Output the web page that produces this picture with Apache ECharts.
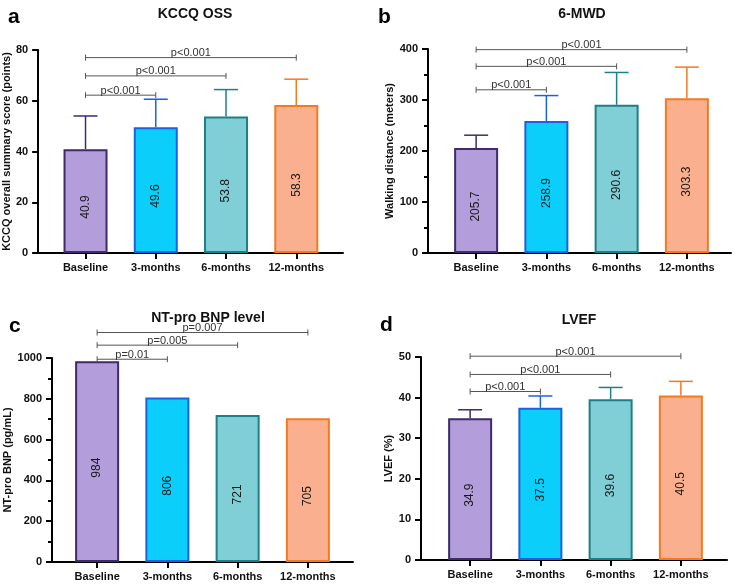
<!DOCTYPE html>
<html>
<head>
<meta charset="utf-8">
<script src="https://cdn.jsdelivr.net/npm/echarts@6/dist/echarts.min.js"></script>
<style>
  body { margin: 0; background: #fff; }
  #chart { width: 738px; height: 588px; }
</style>
</head>
<body>
<div id="chart"></div>
<script>
// data
const categories = ['Baseline', '3-months', '6-months', '12-months']

const kccqMean = [40.9, 49.6, 53.8, 58.3]
const kccqUpper = [54.0, 60.6, 64.4, 68.5]
const kccqBracketY = [62.2, 69.8, 77.0]
const kccqP = ['p<0.001', 'p<0.001', 'p<0.001']

const mwdMean = [205.7, 258.9, 290.6, 303.3]
const mwdUpper = [231, 308.7, 354, 364.5]
const mwdBracketY = [320, 366, 398.7]
const mwdP = ['p<0.001', 'p<0.001', 'p<0.001']

const bnpMean = [984, 806, 721, 705]
const bnpBracketY = [994, 1063, 1125]
const bnpP = ['p=0.01', 'p=0.005', 'p=0.007']

const lvefMean = [34.9, 37.5, 39.6, 40.5]
const lvefUpper = [37.0, 40.4, 42.5, 44.0]
const lvefBracketY = [41.5, 45.7, 50.2]
const lvefP = ['p<0.001', 'p<0.001', 'p<0.001']

const fills = ['#b39ddb', '#0bcffa', '#80cfd6', '#fab08e']
const borders = ['#3d2b6b', '#1c62e0', '#1b8088', '#f47a20']

const FONT = '"Liberation Sans", Arial, sans-serif'

const panels = [
  { letter: 'a', title: 'KCCQ OSS', yName: 'KCCQ overall summary score (points)', max: 80, interval: 20, minor: false,
    mean: kccqMean, upper: kccqUpper, bracketY: kccqBracketY, pText: kccqP,
    frame: { left: 37, top: 50, width: 306, height: 203 }, plotLeft: 50.4, nameGap: 25,
    titlePos: [190, 2], letterPos: [3, 2] },
  { letter: 'b', title: '6-MWD', yName: 'Walking distance (meters)', max: 400, interval: 100, minor: true,
    mean: mwdMean, upper: mwdUpper, bracketY: mwdBracketY, pText: mwdP,
    frame: { left: 428, top: 49, width: 303, height: 204 }, plotLeft: 441, nameGap: 30,
    titlePos: [577, 2], letterPos: [373, 2] },
  { letter: 'c', title: 'NT-pro BNP level', yName: 'NT-pro BNP (pg/mL)', max: 1000, interval: 200, minor: true,
    mean: bnpMean, upper: null, bracketY: bnpBracketY, pText: bnpP,
    frame: { left: 52, top: 358, width: 301, height: 204 }, plotLeft: 62, nameGap: 38,
    titlePos: [203, 306], letterPos: [4, 311] },
  { letter: 'd', title: 'LVEF', yName: 'LVEF (%)', max: 50, interval: 10, minor: false,
    mean: lvefMean, upper: lvefUpper, bracketY: lvefBracketY, pText: lvefP,
    frame: { left: 421, top: 357, width: 306, height: 203 }, plotLeft: 435, nameGap: 24,
    titlePos: [574, 308], letterPos: [375, 310] }
]

const option = { animation: false, title: [], grid: [], xAxis: [], yAxis: [], series: [] }

panels.forEach((p, k) => {
  const fi = k * 2      // frame grid (axis lines, y ticks)
  const pi = k * 2 + 1  // plot grid (bars)

  option.title.push({
    text: p.title, left: p.titlePos[0], top: p.titlePos[1], textAlign: 'center',
    textStyle: { fontSize: 14, fontWeight: 'bold', color: '#111', fontFamily: FONT }
  })
  option.title.push({
    text: p.letter, left: p.letterPos[0], top: p.letterPos[1],
    textStyle: { fontSize: 21, fontWeight: 'bold', color: '#000', fontFamily: FONT }
  })

  option.grid.push(Object.assign({}, p.frame))
  option.grid.push({ left: p.plotLeft, top: p.frame.top, width: 281, height: p.frame.height })

  // frame axes
  option.xAxis.push({
    gridIndex: fi, type: 'value', min: 0, max: 1,
    axisLine: { show: true, lineStyle: { color: '#000', width: 2 } },
    axisTick: { show: false }, axisLabel: { show: false }, splitLine: { show: false }
  })
  option.yAxis.push({
    gridIndex: fi, type: 'value', min: 0, max: p.max, interval: p.interval,
    name: p.yName, nameLocation: 'middle', nameGap: p.nameGap,
    nameTextStyle: { fontSize: 11, fontWeight: 'bold', color: '#111', fontFamily: FONT },
    axisLine: { show: true, lineStyle: { color: '#000', width: 2 } },
    axisTick: { show: true, length: 6, lineStyle: { color: '#000', width: 2 } },
    minorTick: { show: p.minor, splitNumber: 2, length: 4, lineStyle: { color: '#000', width: 2 } },
    axisLabel: { margin: 10, fontSize: 11, fontWeight: 'bold', color: '#111', fontFamily: FONT,
      formatter: v => String(v) },
    splitLine: { show: false }
  })

  // plot axes
  option.xAxis.push({
    gridIndex: pi, type: 'category', data: categories,
    axisLine: { show: false },
    axisTick: { show: true, alignWithLabel: true, length: 6, lineStyle: { color: '#000', width: 2 } },
    axisLabel: { interval: 0, margin: 9, fontSize: 11, fontWeight: 'bold', color: '#111', fontFamily: FONT }
  })
  option.yAxis.push({ gridIndex: pi, type: 'value', min: 0, max: p.max, show: false })

  // error bars
  if (p.upper) {
    option.series.push({
      type: 'custom', xAxisIndex: pi, yAxisIndex: pi, z: 1,
      data: p.upper.map((u, i) => [i, p.mean[i], u]),
      renderItem(params, api) {
        const i = api.value(0)
        const a = api.coord([i, api.value(1)])
        const b = api.coord([i, api.value(2)])
        const style = { stroke: borders[i], lineWidth: 1.5 }
        return {
          type: 'group',
          children: [
            { type: 'line', shape: { x1: a[0], y1: a[1], x2: b[0], y2: b[1] }, style },
            { type: 'line', shape: { x1: b[0] - 12, y1: b[1], x2: b[0] + 12, y2: b[1] }, style }
          ]
        }
      }
    })
  }

  // bars
  option.series.push({
    type: 'bar', xAxisIndex: pi, yAxisIndex: pi, z: 2, barWidth: 44,
    data: p.mean.map((v, i) => ({ value: v, itemStyle: { color: fills[i], borderColor: borders[i] } })),
    itemStyle: { borderWidth: 2 },
    label: { show: true, position: 'inside', offset: [-6, 0], rotate: 90, fontSize: 12, color: '#1a1a1a', fontFamily: FONT }
  })

  // significance brackets
  option.series.push({
    type: 'custom', xAxisIndex: pi, yAxisIndex: pi, z: 3, clip: false,
    data: p.bracketY.map((y, j) => [0, y, j + 1]),
    encode: { x: 0, y: 1 },
    renderItem(params, api) {
      const a = api.coord([api.value(0), api.value(1)])
      const b = api.coord([api.value(2), api.value(1)])
      const style = { stroke: '#555', lineWidth: 1 }
      return {
        type: 'group',
        children: [
          { type: 'line', shape: { x1: a[0], y1: a[1], x2: b[0], y2: b[1] }, style },
          { type: 'line', shape: { x1: a[0], y1: a[1] - 3, x2: a[0], y2: a[1] + 3 }, style },
          { type: 'line', shape: { x1: b[0], y1: b[1] - 3, x2: b[0], y2: b[1] + 3 }, style },
          { type: 'text', style: {
              text: p.pText[params.dataIndex], x: (a[0] + b[0]) / 2, y: a[1] + 1,
              align: 'center', verticalAlign: 'bottom',
              fontSize: 11, fontFamily: FONT, fill: '#333' } }
        ]
      }
    }
  })
})

const chart = echarts.init(document.getElementById('chart'))
chart.setOption(option)
</script>
</body>
</html>
